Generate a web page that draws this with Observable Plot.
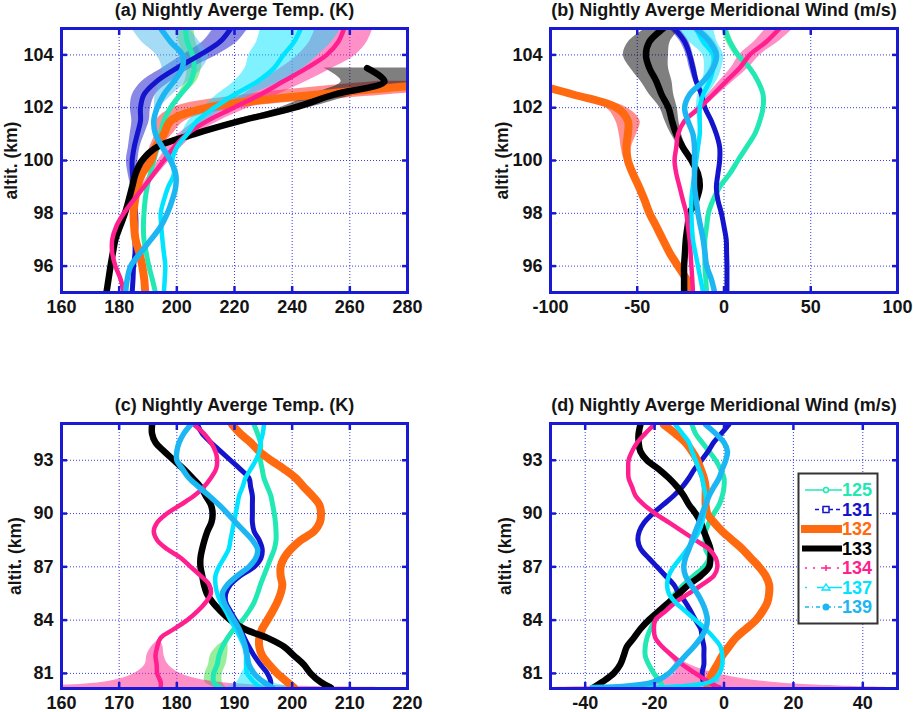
<!DOCTYPE html>
<html><head><meta charset="utf-8">
<script src="https://cdn.jsdelivr.net/npm/d3@7"></script>
<script src="https://cdn.jsdelivr.net/npm/@observablehq/plot@0.6"></script>
<style>
body{margin:0;background:#fff;}
#root{position:relative;width:913px;height:712px;overflow:hidden;background:#fff;}
#root > svg{position:absolute;}
</style></head><body><div id="root"></div>
<script>
// ---------- series ----------
const seriesNames = ["125","131","132","133","134","137","139"];
const seriesColors = ["#22e8b4","#1414cc","#ff6a10","#000000","#ff1f8f","#00e4ff","#1cb6f2"];
const errColors    = ["#33dd33","#1414cc","#ff2020","#000000","#ff1f8f","#00e4ff","#4db8ee"];

// ---------- altitudes ----------
const altAB = [95,95.5,96,96.5,97,97.5,98,98.5,99,99.5,100,100.5,101,101.5,102,102.5,103,103.5,104,104.5,105];
const altCD = [95,94.5,94,93.5,93,92.5,92,91.5,91,90.5,90,89.5,89,88.5,88,87.5,87,86.5,86,85.5,85,84.5,84,83.5,83,82.5,82,81.5,81,80.5,80.2];

// ---------- tick labels ----------
const xTicksA = [160,180,200,220,240,260,280];
const xTicksB = [-100,-50,0,50,100];
const xTicksC = [160,170,180,190,200,210,220];
const xTicksD = [-40,-20,0,20,40];
const yTicksAB = [96,98,100,102,104];
const yTicksCD = [81,84,87,90,93];

// ---------- (a) temperature 95-105 km ----------
const tempA125 = [192.6,191.5,190.3,189.4,188.6,188.4,188.6,189,189.7,190.8,192,193.2,194.4,195.5,197.8,201.3,204.8,206,205.4,203.6,203];
const tempA131 = [184.5,184.8,185,185.5,185.5,185.8,185.7,185.3,185,184.6,184.5,185.2,186.3,187.4,187.4,188.6,193,200,208,215,218.7];
const tempA132 = [189,188.7,188,187,185.7,185.2,185,185.5,186.3,188,191,192.6,195.5,197.8,210.6,249,300,null,null,null,null];
const tempA133 = [175.6,176.3,177,177.8,178.7,180.3,182,183.3,184.5,185.7,188,193,206,222,240.7,254.6,272,266,null,null,null];
const tempA134 = [181.6,180.5,178.7,177.6,177.6,179,181.6,185,188.6,192,195.5,199,203.6,210.6,219.8,229,237,245,252,256,258];
const tempA137 = [195.5,195.8,196,195.5,195,194.6,194.4,195.5,197,199,198.4,200,203.6,207,213,220,228,233.7,237,240.7,243];
const tempA139 = [182.2,182.8,184,187.4,191,194.4,196.7,198.4,199.6,199.6,197.8,195,192.6,192,193.2,195.5,199,201.9,201.9,197.8,194.4];
const errA125 = [0,0,0,0,0,0,0,0,0,0,0,0,0,0,0.5,1,2,2.5,3,3,3];
const errA131 = [0.5,0.5,0.5,0.5,0.5,0.5,1,1,1,1.5,2,2,2.5,3,3.5,4,5,5,6,6,6];
const errA132 = [0,0,0,0,0,0,0.5,0.5,1,1,1.5,2,3,5,12,25,30,0,0,0,0];
const errA133 = [0,0,0,0,0,0,0,0,0.5,1,1,1.5,2,3,5,8,15,15,0,0,0];
const errA134 = [0,0,0,0,0,0,0,0.5,1,1.5,2,2.5,3,4,5,6,8,9,10,10,10];
const errA137 = [0,0,0,0,0,0,0,0,0,0,0.5,1,2,3,4,6,8,10,12,13,14];
const errA139 = [0,0,0,0,0,0,0,0,0,0,0,0,0,0,1,3,5,7,9,10,10];

// ---------- (b) meridional wind 95-105 km ----------
const windB125 = [-10,-10.5,-11,-11,-11,-10,-9,-6.3,-2.5,3.3,8,12.9,17.7,20.6,22.5,22.5,19.6,14.8,8,3.3,0.4];
const windB131 = [1.7,1.7,1.7,1.5,1.3,0,-1.5,-3.5,-4.4,-3.5,-2.5,-2.5,-4.4,-7.3,-11,-13,-16,-17.9,-19.8,-22.7,-28.5];
const windB132 = [-18.8,-21.7,-26.5,-31.3,-35.2,-39,-42.9,-45.8,-49,-52.5,-55.4,-56.3,-55.4,-55.4,-62,-87,-115,null,null,null,null];
const windB133 = [-23,-23,-23,-22.5,-22,-21,-19.8,-16,-14,-15,-18.8,-23.7,-27.5,-30,-32,-36,-39,-43,-45,-43,-35];
const windB134 = [-17.9,-18.3,-18.8,-19.3,-19.8,-20.8,-21.7,-23.7,-25.6,-27.5,-28.5,-27.5,-26.5,-22.7,-14,-6.3,1.3,9,14.8,24.4,32];
const windB137 = [-12,-13.5,-15,-16.5,-17.9,-18.5,-18.8,-18.8,-18,-17,-16,-15,-14,-14,-14,-12,-8.3,-6.3,-6.3,-12,-16];
const windB139 = [-5.4,-7.3,-10,-11,-12,-13.5,-15,-16,-17,-17,-17,-17,-17.9,-20.8,-22.7,-19.8,-12,-6.3,-4.4,-8.3,-16];
const errB125 = [0,0,0,0,0,0,0,0,0,0,0,0,0,0,0,0,1,1.5,2,2,2];
const errB131 = [0,0,0,0,0,0,0,0,0,0,0,0,0,0.5,1,1,1.5,2,2,2.5,3];
const errB132 = [0,0,0,0,0,0,0,0,0,0,2,3,5,7,6,5,5,0,0,0,0];
const errB133 = [0,0,0,0,0,0,0,0,0,0,1,2,3,4,5,7,9,11,13,12,10];
const errB134 = [0,0,0,0,0,0,0,0,0,0,0,0,0,1,2,3,4,5,6,7,8];
const errB137 = [0,0,0,0,0,0,0,0,0,0,0,0,0,1,2,3,4,5,6,8,10];
const errB139 = [0,0,0,0,0,0,0,0,0,0,0,0,0,0,0,0,1,2,2,3,3];

// ---------- (c) temperature 80-95 km ----------
const tempC125 = [193.4,194,194.5,194.5,194.5,194.8,195.1,195.7,196.3,196.6,196.9,197.1,197.2,197.2,196.9,196.3,195.7,195.1,194.5,194,193.4,192.5,191.4,189.9,188.8,187.9,187.3,187,186.4,186.4,187.6];
const tempC131 = [183.6,184.4,185.9,187.6,189.3,191,192.5,192.8,193.1,193.1,193.1,193.1,193.4,194.3,194.8,194.6,193.4,191,189.3,188.5,188.5,189.3,190.2,191,191.7,192.5,193.4,194.5,195.7,196.3,196];
const tempC132 = [189.6,191,192.8,194.3,196.3,198.6,200.6,202,203.5,204.7,205,204.8,203.8,201.5,199.8,198.6,198,198,198.3,198,197.4,196.6,195.7,194.8,194.3,194.3,194.8,196,197.4,199.2,200.3];
const tempC133 = [175.7,175.7,176.3,177.8,179.5,181.2,182.7,184.1,185,185.9,186.2,186,185.3,184.8,184.4,184.1,184.1,184.4,184.7,185.2,186.2,187.6,189.3,191.7,195.7,198.6,200.3,202,203.2,205,206.7];
const tempC134 = [183,184.7,185.9,186.7,187,186.8,185.9,184.7,183,180.7,178.3,176.6,176,176.6,178.3,180.7,182.4,184.1,185.6,185.9,185,183.6,181.8,179.5,177.2,176.6,176.3,176.5,176.6,177.2,177.2];
const tempC137 = [195.1,194.9,194.5,194.3,193.7,192.8,191.9,191.4,190.8,190.5,190.2,189.9,189.6,189.3,189,188.2,187.3,186.7,186.7,187,187.6,188.5,189.3,190.2,191,191.7,192,192,192.2,193.4,194.5];
const tempC139 = [182.4,181.2,180.4,180,180,181,182.1,183.8,185.6,187.3,188.8,190.2,191.7,193.1,194,193.7,192.5,190.5,188.8,187.9,188.2,189,189.9,190.8,191.4,191.9,192.2,192.5,193.4,195.1,196.6];
const errC125 = [0,0,0,0,0,0,0,0,0,0,0,0,0,0,0,0,0,0,0,0,0,0,0,0,0,1,1.5,1.5,1.5,1.5,1];
const errC134 = [0,0,0,0,0,0,0,0,0,0,0,0,0,0,0,0,0,0,0,0,0,0,0,0,0,1,1.5,2,4,10,40];
const errC137 = [0,0,0,0,0,0,0,0,0,0,0,0,0,0,0,0,0,0,0,0,0,0,0,0,0,0,0,0,1,3,6];

// ---------- (d) meridional wind 80-95 km ----------
const windD125 = [-9.2,-8.2,-6.3,-4.3,-2.4,-1,0,0,-0.5,-1.4,-2.9,-4.3,-5.3,-5.5,-5.3,-4.3,-5.8,-8.7,-11.6,-14,-15.9,-17.8,-19.8,-21.2,-22.2,-22.7,-22.7,-21.7,-20.2,-18.3,-17.8];
const windD131 = [1.4,-0.8,-3,-4.6,-6.5,-8.5,-10.1,-12,-14.5,-17.5,-20.5,-23,-24.4,-24.8,-24,-21.7,-19.3,-16.9,-14.5,-13,-11.1,-9.6,-8.2,-6.7,-6.3,-5.8,-5.8,-5.8,-6.3,-5.8,-1.4];
const windD132 = [-17.3,-14,-11.1,-9.2,-7.7,-6.7,-5.8,-5.3,-5.3,-5.3,-4.8,-2.9,-0.5,2.4,5.3,7.7,10.1,12,13,13,12.5,11.1,9.2,6.3,3.4,1.4,-0.5,-1.9,-3.4,-4.3,-4.8];
const windD133 = [-24.1,-24.6,-24.6,-24.1,-22.2,-18.8,-15.9,-13.5,-11.6,-10.1,-8.2,-6.7,-5.8,-4.8,-3.9,-3.9,-4.3,-6.7,-10.1,-13,-15.9,-18.8,-21.7,-24.1,-26,-28,-28.9,-29.9,-31.8,-35.2,-37.6];
const windD134 = [-20.2,-22.7,-25,-26.5,-27.5,-27.6,-27.5,-26.5,-25.5,-23.1,-19.8,-15.9,-12,-8.2,-4.3,-2.4,-1.9,-2.9,-6.3,-10.1,-14,-16.9,-19.8,-20.2,-19.8,-17.8,-14.9,-12,-8.2,-4.3,-1.4];
const windD137 = [-14,-12,-10.1,-9.2,-8.2,-7.2,-6.3,-5.8,-5.3,-5.3,-5.8,-6.3,-7.2,-8.7,-10.6,-12.5,-14.5,-15.9,-16.4,-15.9,-14,-11.1,-8.2,-5.3,-2.9,-1,-0.5,-0.5,-1.4,-4.3,-29.4];
const windD139 = [-5.3,-2.4,0,1,0.5,-0.5,-1.4,-2.9,-4.3,-5.3,-6.3,-7.2,-8.2,-9.2,-10.1,-11.1,-11.6,-11.1,-9.6,-7.7,-6.3,-5.3,-4.8,-5.3,-6.7,-8.7,-11.1,-13.5,-15.9,-20.7,-38];
const errD134 = [0,0,0,0,0,0,0,0,0,0,0,0,0,0,0,0,0,0,0,0,0,0,0,0,0,0,1,2,6,18,50];
const errD137 = [0,0,0,0,0,0,0,0,0,0,0,0,0,0,0,0,0,0,0,0,0,0,0,0,0,0,0,0,0,3,5];

// ---------- styles ----------
const FONT = "'Liberation Sans', Arial, Helvetica, sans-serif";
const frameBlue = "#1a1ad2";
const gridBlue = "#3a3ae8";
const lineWidths = [5, 5, 8, 6.5, 4.5, 4.5, 5.5];

function panel(cfg) {
  const rows = [];
  seriesNames.forEach((s, i) => {
    const vals = cfg.values[i];
    const errs = cfg.errors[i];
    cfg.alt.forEach((a, j) => {
      if (vals[j] == null) return;
      rows.push({series: s, alt: a, v: vals[j], e: errs ? errs[j] : 0});
    });
  });
  const marks = [
    Plot.gridX(cfg.xTicks, {stroke: gridBlue, strokeOpacity: 1, strokeWidth: 1, strokeDasharray: "1,2"}),
    Plot.gridY(cfg.yTicks, {stroke: gridBlue, strokeOpacity: 1, strokeWidth: 1, strokeDasharray: "1,2"})
  ];
  seriesNames.forEach((s, i) => {
    if (!cfg.errors[i]) return;
    const r = rows.filter(d => d.series === s);
    marks.push(Plot.areaX(r, {y: "alt", x1: d => d.v - d.e, x2: d => d.v + d.e, fill: errColors[i], fillOpacity: 0.5, curve: "catmull-rom", clip: true}));
  });
  seriesNames.forEach((s, i) => {
    marks.push(Plot.line(rows.filter(d => d.series === s), {x: "v", y: "alt", stroke: seriesColors[i], strokeWidth: lineWidths[i], curve: "catmull-rom", clip: true}));
  });
  const fmt = d => String(d);
  marks.push(
    Plot.frame({stroke: frameBlue, strokeWidth: 3}),
    Plot.axisX(cfg.xTicks, {anchor: "bottom", tickSize: 0, tickPadding: 8, fontSize: 18, fontWeight: "bold", fill: "#141414", label: null, tickFormat: fmt}),
    Plot.axisY(cfg.yTicks, {anchor: "left", tickSize: 0, tickPadding: 8, fontSize: 18, fontWeight: "bold", fill: "#141414", label: null, tickFormat: fmt}),
    Plot.axisX(cfg.xTicks, {anchor: "bottom", tickSize: 6, dy: -6, fill: "none", stroke: frameBlue, strokeWidth: 2.5, label: null}),
    Plot.axisX(cfg.xTicks, {anchor: "top", tickSize: 6, dy: 6, fill: "none", stroke: frameBlue, strokeWidth: 2.5, label: null}),
    Plot.axisY(cfg.yTicks, {anchor: "left", tickSize: 6, dx: 6, fill: "none", stroke: frameBlue, strokeWidth: 2.5, label: null}),
    Plot.axisY(cfg.yTicks, {anchor: "right", tickSize: 6, dx: -6, fill: "none", stroke: frameBlue, strokeWidth: 2.5, label: null}),
    Plot.text([cfg.title], {text: d => d, frameAnchor: "top", lineAnchor: "middle", dy: -18, fontSize: 18, fontWeight: "bold", fill: "#141414"}),
    Plot.text(["altit. (km)"], {text: d => d, frameAnchor: "left", textAnchor: "middle", lineAnchor: "middle", rotate: -90, dx: cfg.ylabelDx, fontSize: 17.5, fontWeight: "bold", fill: "#141414"})
  );
  const svg = Plot.plot({
    width: cfg.width, height: cfg.height,
    marginLeft: cfg.ml, marginRight: cfg.mr, marginTop: cfg.mt, marginBottom: cfg.mb,
    x: {domain: cfg.xDomain},
    y: {domain: cfg.yDomain},
    style: {fontFamily: FONT, fontWeight: "bold", background: "transparent", overflow: "visible"},
    marks
  });
  svg.style.left = cfg.left + "px";
  svg.style.top = cfg.top + "px";
  svg.style.maxWidth = "none";
  return svg;
}

const root = document.getElementById("root");
root.appendChild(panel({
  left: 0, top: 0, width: 456, height: 356, ml: 61, mr: 49, mt: 28, mb: 64,
  alt: altAB, xDomain: [160, 280], yDomain: [95, 105], xTicks: xTicksA, yTicks: yTicksAB,
  values: [tempA125, tempA131, tempA132, tempA133, tempA134, tempA137, tempA139],
  errors: [errA125, errA131, errA132, errA133, errA134, errA137, errA139],
  title: "(a) Nightly Averge Temp. (K)", ylabelDx: -50
}));
root.appendChild(panel({
  left: 456, top: 0, width: 457, height: 356, ml: 94, mr: 16, mt: 28, mb: 64,
  alt: altAB, xDomain: [-100, 100], yDomain: [95, 105], xTicks: xTicksB, yTicks: yTicksAB,
  values: [windB125, windB131, windB132, windB133, windB134, windB137, windB139],
  errors: [errB125, errB131, errB132, errB133, errB134, errB137, errB139],
  title: "(b) Nightly Averge Meridional Wind (m/s)", ylabelDx: -48
}));
root.appendChild(panel({
  left: 0, top: 356, width: 456, height: 356, ml: 61, mr: 49, mt: 67, mb: 24,
  alt: altCD, xDomain: [160, 220], yDomain: [80.15, 95.07], xTicks: xTicksC, yTicks: yTicksCD,
  values: [tempC125, tempC131, tempC132, tempC133, tempC134, tempC137, tempC139],
  errors: [errC125, null, null, null, errC134, errC137, null],
  title: "(c) Nightly Averge Temp. (K)", ylabelDx: -46
}));
root.appendChild(panel({
  left: 456, top: 356, width: 457, height: 356, ml: 94, mr: 16, mt: 67, mb: 24,
  alt: altCD, xDomain: [-50, 50], yDomain: [80.15, 95.07], xTicks: xTicksD, yTicks: yTicksCD,
  values: [windD125, windD131, windD132, windD133, windD134, windD137, windD139],
  errors: [null, null, null, null, errD134, errD137, null],
  title: "(d) Nightly Averge Meridional Wind (m/s)", ylabelDx: -45
}));

// ---------- legend (inside panel d) ----------
const lg = d3.select(root).append("svg")
  .attr("width", 82).attr("height", 153)
  .style("left", "797px").style("top", "472px");
lg.append("rect").attr("x", 1.5).attr("y", 1.5).attr("width", 79).attr("height", 150)
  .attr("fill", "white").attr("stroke", "#333").attr("stroke-width", 2);
const legendStyle = [
  {x1: 8, dash: null, w: 1.5, mark: "circle"},
  {x1: 18, dash: "4,3", w: 1.5, mark: "square"},
  {x1: 4, dash: null, w: 8, mark: null},
  {x1: 5, dash: null, w: 6, mark: null},
  {x1: 8, dash: "2,6", w: 1.5, mark: "plus"},
  {x1: 8, dash: "2,10,30", w: 1.5, mark: "triangle"},
  {x1: 8, dash: "4,3,1,3", w: 1.5, mark: "dot"}
];
seriesNames.forEach((s, i) => {
  const y = 18 + i * 19.5;
  const st = legendStyle[i];
  const c = seriesColors[i];
  const g = lg.append("g");
  const ln = g.append("line").attr("x1", st.x1).attr("x2", 45).attr("y1", y).attr("y2", y)
    .attr("stroke", c).attr("stroke-width", st.w);
  if (st.dash) ln.attr("stroke-dasharray", st.dash);
  const mx = 29;
  if (st.mark === "circle") g.append("circle").attr("cx", mx).attr("cy", y).attr("r", 2.5).attr("fill", "white").attr("stroke", c).attr("stroke-width", 1.5);
  if (st.mark === "square") g.append("rect").attr("x", mx - 3).attr("y", y - 3).attr("width", 6).attr("height", 6).attr("fill", "white").attr("stroke", c).attr("stroke-width", 1.5);
  if (st.mark === "plus") g.append("path").attr("d", `M${mx-3},${y}H${mx+3}M${mx},${y-3}V${y+3}`).attr("stroke", c).attr("stroke-width", 1.5);
  if (st.mark === "triangle") g.append("path").attr("d", `M${mx-4},${y+2.5}L${mx},${y-3.5}L${mx+4},${y+2.5}Z`).attr("fill", "white").attr("stroke", c).attr("stroke-width", 1.3);
  if (st.mark === "dot") g.append("circle").attr("cx", mx).attr("cy", y).attr("r", 3.5).attr("fill", c);
  g.append("text").attr("x", 75).attr("y", y).attr("text-anchor", "end").attr("dominant-baseline", "central")
    .attr("fill", c).attr("font-family", FONT).attr("font-weight", "bold").attr("font-size", 18).text(s);
});
</script></body></html>
